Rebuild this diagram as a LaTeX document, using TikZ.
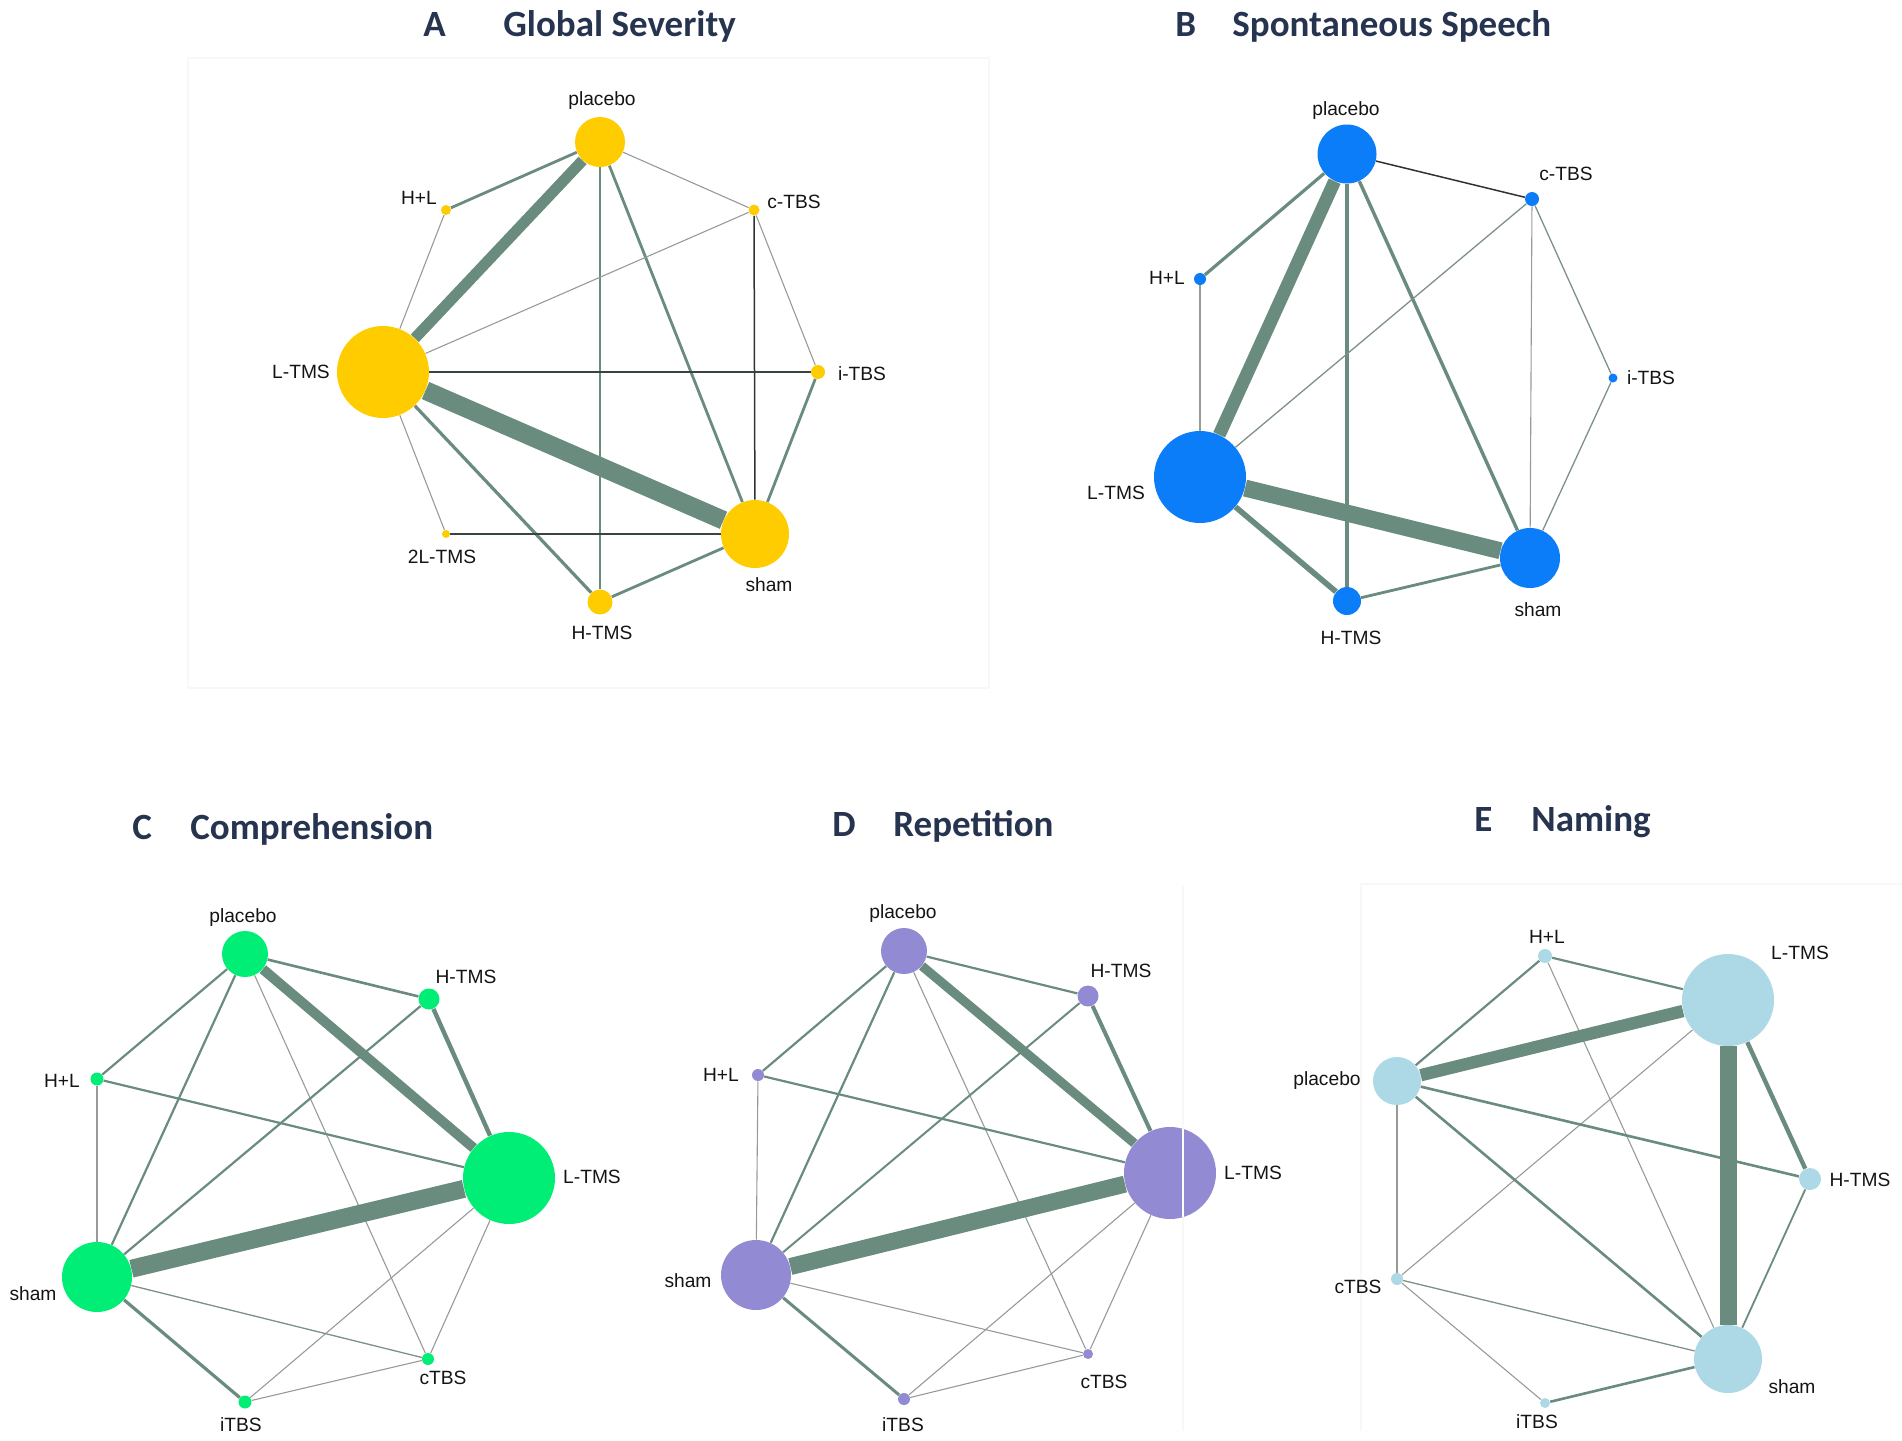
\documentclass[tikz,border=0pt]{standalone}
\usepackage{fontspec}
\setmainfont{Liberation Sans}
\newfontfamily\titlefont{Carlito}
\usetikzlibrary{backgrounds}
\definecolor{edgeg}{RGB}{106,140,126}
\definecolor{thing}{RGB}{150,155,152}
\definecolor{thingr}{RGB}{125,145,135}
\definecolor{darkl}{RGB}{45,52,48}
\definecolor{ttl}{RGB}{38,52,80}
\definecolor{faint}{RGB}{248,248,248}
\definecolor{cA}{RGB}{255,204,0}
\definecolor{cB}{RGB}{12,125,248}
\definecolor{cC}{RGB}{0,238,118}
\definecolor{cD}{RGB}{146,138,210}
\definecolor{cE}{RGB}{173,216,230}
\begin{document}
\begin{tikzpicture}[x=0.5pt,y=-0.5pt,
  nd/.style={circle,inner sep=0pt,minimum size=#1pt},
  lb/.style={font=\fontsize{9.6}{11}\selectfont,inner sep=0pt,text={black!92}},
  tt/.style={font=\titlefont\bfseries\fontsize{18.5}{22}\selectfont,text=ttl,anchor=base west,inner sep=0pt},
  tl/.style={draw=thing,line width=0.55pt},
  tg/.style={draw=thingr,line width=0.65pt},
  dk/.style={draw=darkl,line width=0.75pt},
  ed/.style={draw=edgeg,line width=#1pt}]
\useasboundingbox (0,0) rectangle (1902,1441);
% titles
\node[tt] (tA) at (423,36) {A};
\node[tt] (tA2) at (503,36) {Global Severity};
\node[tt] (tB) at (1175,36) {B};
\node[tt] (tB2) at (1232,36) {Spontaneous Speech};
\node[tt] (tC) at (132,839) {C};
\node[tt] (tC2) at (190,839) {Comprehension};
\node[tt] (tD) at (832,836) {D};
\node[tt] (tD2) at (893,836) {Repetition};
\node[tt] (tE) at (1474,831) {E};
\node[tt] (tE2) at (1531,831) {Naming};

% ---------- Panel A ----------
\node[nd=25,fill=cA] (pA) at (600,142) {};
\node[nd=5,fill=cA] (hlA) at (446,210) {};
\node[nd=5.5,fill=cA] (ctA) at (754,210) {};
\node[nd=7,fill=cA] (itA) at (818,372) {};
\node[nd=46,fill=cA] (ltA) at (383,372) {};
\node[nd=4,fill=cA] (l2A) at (446,534) {};
\node[nd=34,fill=cA] (shA) at (755,534) {};
\node[nd=12.5,fill=cA] (htA) at (600,602) {};
\node[lb] (LpA) at (602,101) {placebo};
\node[lb] (LhlA) at (419,198) {H+L};
\node[lb] (LctA) at (794,202) {c-TBS};
\node[lb] (LitA) at (862,374) {i-TBS};
\node[lb] (LltA) at (301,372) {L-TMS};
\node[lb] (Ll2A) at (442,557) {2L-TMS};
\node[lb] (LshA) at (769,585) {sham};
\node[lb] (LhtA) at (602,633) {H-TMS};

% ---------- Panel B ----------
\node[nd=29.5,fill=cB] (pB) at (1347,154) {};
\node[nd=7,fill=cB] (ctB) at (1532,199) {};
\node[nd=6,fill=cB] (hlB) at (1200,279) {};
\node[nd=4.5,fill=cB] (itB) at (1613,378) {};
\node[nd=46,fill=cB] (ltB) at (1200,477) {};
\node[nd=30,fill=cB] (shB) at (1530,558) {};
\node[nd=14,fill=cB] (htB) at (1347,601) {};
\node[lb] (LpB) at (1346,111) {placebo};
\node[lb] (LctB) at (1566,174) {c-TBS};
\node[lb] (LhlB) at (1167,278) {H+L};
\node[lb] (LitB) at (1651,378) {i-TBS};
\node[lb] (LltB) at (1116,493) {L-TMS};
\node[lb] (LshB) at (1538,610) {sham};
\node[lb] (LhtB) at (1351,638) {H-TMS};

% ---------- Panel C ----------
\node[nd=23,fill=cC] (pC) at (245,954) {};
\node[nd=10.5,fill=cC] (htC) at (429,999) {};
\node[nd=6.5,fill=cC] (hlC) at (97,1079) {};
\node[nd=46,fill=cC] (ltC) at (509,1178) {};
\node[nd=35,fill=cC] (shC) at (97,1277) {};
\node[nd=6,fill=cC] (cbC) at (428,1359) {};
\node[nd=6.5,fill=cC] (ibC) at (245,1402) {};
\node[lb] (LpC) at (243,918) {placebo};
\node[lb] (LhtC) at (466,977) {H-TMS};
\node[lb] (LhlC) at (62,1081) {H+L};
\node[lb] (LltC) at (592,1177) {L-TMS};
\node[lb] (LshC) at (33,1294) {sham};
\node[lb] (LcbC) at (443,1378) {cTBS};
\node[lb] (LibC) at (241,1425) {iTBS};

% ---------- Panel D ----------
\node[nd=23,fill=cD] (pD) at (904,951) {};
\node[nd=10.5,fill=cD] (htD) at (1088,996) {};
\node[nd=6,fill=cD] (hlD) at (758,1075) {};
\node[nd=46,fill=cD] (ltD) at (1170,1173) {};
\node[nd=35,fill=cD] (shD) at (756,1275) {};
\node[nd=5,fill=cD] (cbD) at (1088,1354) {};
\node[nd=6,fill=cD] (ibD) at (904,1399) {};
\node[lb] (LpD) at (903,914) {placebo};
\node[lb] (LhtD) at (1121,971) {H-TMS};
\node[lb] (LhlD) at (721,1075) {H+L};
\node[lb] (LltD) at (1253,1173) {L-TMS};
\node[lb] (LshD) at (688,1281) {sham};
\node[lb] (LcbD) at (1104,1382) {cTBS};
\node[lb] (LibD) at (903,1425) {iTBS};
\draw[white,line width=0.7pt] (1183,1129) -- (1183,1217);

% ---------- Panel E ----------
\node[nd=7,fill=cE] (hlE) at (1545,956) {};
\node[nd=46,fill=cE] (ltE) at (1728,1000) {};
\node[nd=24,fill=cE] (pE) at (1397,1081) {};
\node[nd=11,fill=cE] (htE) at (1810,1179) {};
\node[nd=6,fill=cE] (cbE) at (1397,1279) {};
\node[nd=34,fill=cE] (shE) at (1728,1359) {};
\node[nd=5,fill=cE] (ibE) at (1545,1403) {};
\node[lb] (LhlE) at (1547,937) {H+L};
\node[lb] (LltE) at (1800,953) {L-TMS};
\node[lb] (LpE) at (1327,1081) {placebo};
\node[lb] (LhtE) at (1860,1180) {H-TMS};
\node[lb] (LcbE) at (1358,1287) {cTBS};
\node[lb] (LshE) at (1792,1387) {sham};
\node[lb] (LibE) at (1537,1422) {iTBS};

\begin{pgfonlayer}{background}
% faint panel frames
\draw[faint,line width=0.6pt] (188,58) rectangle (989,688);
\draw[faint,line width=0.6pt] (1361,1431) -- (1361,884) -- (1902,884);
\draw[faint,line width=0.6pt] (1183,885) -- (1183,1431);
% A
\draw[ed=5.5] (pA) -- (ltA);
\draw[ed=9.3] (ltA) -- (shA);
\draw[ed=1.4] (pA) -- (hlA);
\draw[tl] (pA) -- (ctA);
\draw[ed=1.1] (pA) -- (htA);
\draw[ed=1.4] (pA) -- (shA);
\draw[tl] (hlA) -- (ltA);
\draw[tl] (ctA) -- (ltA);
\draw[tl] (ctA) -- (itA);
\draw[dk] (ctA) -- (shA);
\draw[draw=darkl!80!edgeg,line width=0.85pt] (ltA) -- (itA);
\draw[ed=1.4] (itA) -- (shA);
\draw[tl] (ltA) -- (l2A);
\draw[ed=1.6] (ltA) -- (htA);
\draw[draw=darkl!80!edgeg,line width=0.75pt] (l2A) -- (shA);
\draw[ed=1.4] (htA) -- (shA);
% B
\draw[dk] (pB) -- (ctB);
\draw[ed=1.6] (pB) -- (hlB);
\draw[ed=6.5] (pB) -- (ltB);
\draw[ed=1.6] (pB) -- (htB);
\draw[ed=1.7] (pB) -- (shB);
\draw[tg] (ctB) -- (ltB);
\draw[tl] (ctB) -- (shB);
\draw[tg] (ctB) -- (itB);
\draw[tl] (hlB) -- (ltB);
\draw[tg] (itB) -- (shB);
\draw[ed=8.5] (ltB) -- (shB);
\draw[ed=2.8] (ltB) -- (htB);
\draw[ed=1.4] (htB) -- (shB);
% C
\draw[ed=1.3] (pC) -- (htC);
\draw[ed=5] (pC) -- (ltC);
\draw[ed=1.1] (pC) -- (hlC);
\draw[ed=1.1] (pC) -- (shC);
\draw[tl] (pC) -- (cbC);
\draw[ed=2.2] (htC) -- (ltC);
\draw[ed=1.1] (htC) -- (shC);
\draw[ed=1.1] (hlC) -- (ltC);
\draw[tl] (hlC) -- (shC);
\draw[ed=9] (ltC) -- (shC);
\draw[tl] (ltC) -- (cbC);
\draw[tl] (ltC) -- (ibC);
\draw[tg] (shC) -- (cbC);
\draw[ed=1.6] (shC) -- (ibC);
\draw[tl] (cbC) -- (ibC);
% D
\draw[ed=1.1] (pD) -- (htD);
\draw[ed=4.6] (pD) -- (ltD);
\draw[ed=1.1] (pD) -- (hlD);
\draw[ed=1.1] (pD) -- (shD);
\draw[tl] (pD) -- (cbD);
\draw[ed=2.0] (htD) -- (ltD);
\draw[ed=1.0] (htD) -- (shD);
\draw[ed=1.1] (hlD) -- (ltD);
\draw[tl] (hlD) -- (shD);
\draw[ed=8.5] (ltD) -- (shD);
\draw[tl] (ltD) -- (cbD);
\draw[tl] (ltD) -- (ibD);
\draw[tl] (shD) -- (cbD);
\draw[ed=1.5] (shD) -- (ibD);
\draw[tl] (cbD) -- (ibD);
% E
\draw[ed=1.1] (hlE) -- (ltE);
\draw[ed=1.1] (hlE) -- (pE);
\draw[tl] (hlE) -- (shE);
\draw[ed=6.2] (ltE) -- (pE);
\draw[tl] (ltE) -- (cbE);
\draw[ed=8.5] (ltE) -- (shE);
\draw[ed=2.2] (ltE) -- (htE);
\draw[ed=1.3] (pE) -- (htE);
\draw[ed=1.3] (pE) -- (shE);
\draw[tl] (pE) -- (cbE);
\draw[tg] (cbE) -- (shE);
\draw[tl] (cbE) -- (ibE);
\draw[ed=0.9] (htE) -- (shE);
\draw[ed=1.3] (ibE) -- (shE);
\end{pgfonlayer}
\end{tikzpicture}
\end{document}
